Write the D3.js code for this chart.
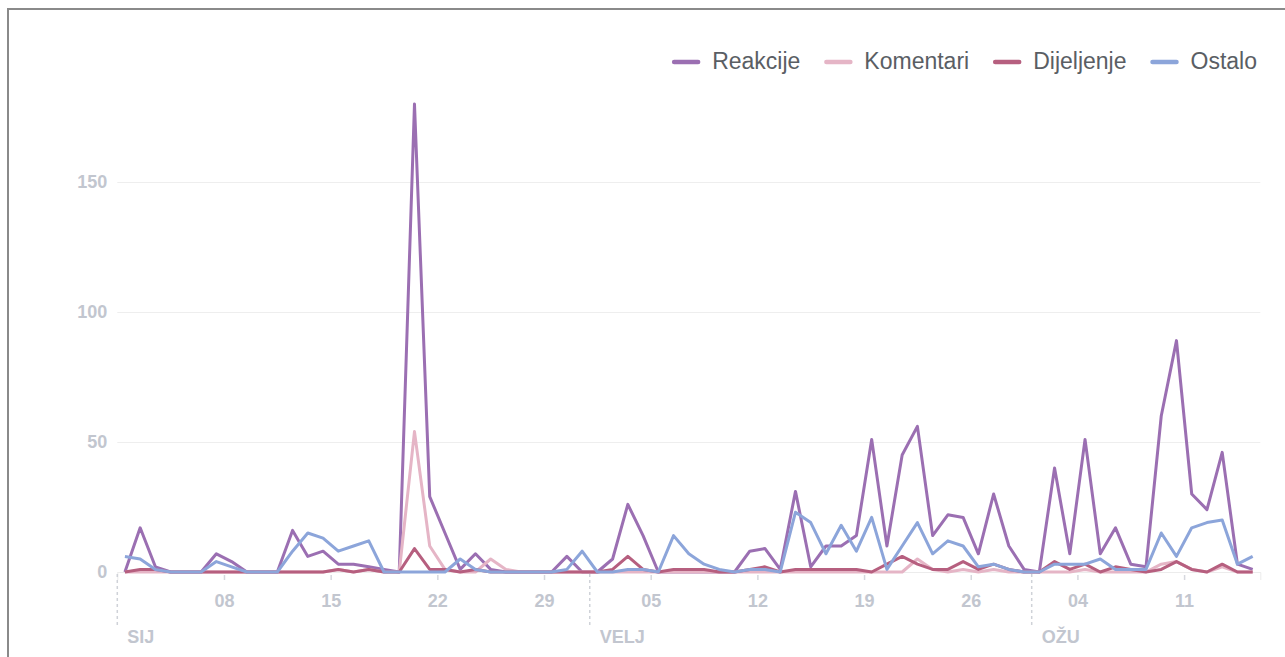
<!DOCTYPE html>
<html>
<head>
<meta charset="utf-8">
<script src="https://cdn.jsdelivr.net/npm/d3@7"></script>
<style>
  body { margin: 0; background: #fff; }
  svg { display: block; font-family: "Liberation Sans", Arial, sans-serif; }
</style>
</head>
<body>
<svg width="1285" height="657"></svg>
<script>
// daily values, 1 Jan - 15 Mar
var startDay = new Date(2024, 0, 1);
var endDay = new Date(2024, 2, 16);

var reakcije = [0, 17, 2, 0, 0, 0, 7, 4, 0, 0, 0, 16, 6, 8, 3, 3, 2, 1, 0, 180,
  29, 15, 1, 7, 1, 0, 0, 0, 0, 6, 0, 0, 5, 26, 14, 0, 0, 0, 0, 0,
  0, 8, 9, 1, 31, 2, 10, 10, 14, 51, 10, 45, 56, 14, 22, 21, 7, 30, 10, 1,
  0, 40, 7, 51, 7, 17, 3, 2, 60, 89, 30, 24, 46, 3, 1];
var komentari = [0, 0, 0, 0, 0, 0, 0, 0, 0, 0, 0, 0, 0, 0, 1, 0, 1, 0, 0, 54,
  10, 1, 0, 0, 5, 1, 0, 0, 0, 0, 0, 0, 0, 0, 0, 0, 0, 0, 0, 0,
  0, 0, 0, 0, 0, 0, 0, 0, 0, 0, 0, 0, 5, 1, 0, 1, 0, 1, 0, 0,
  0, 0, 0, 1, 0, 0, 0, 0, 3, 4, 1, 0, 2, 0, 0];
var dijeljenje = [0, 1, 1, 0, 0, 0, 0, 0, 0, 0, 0, 0, 0, 0, 1, 0, 1, 0, 0, 9,
  1, 1, 0, 1, 0, 0, 0, 0, 0, 0, 0, 0, 1, 6, 1, 0, 1, 1, 1, 0,
  0, 1, 2, 0, 1, 1, 1, 1, 1, 0, 3, 6, 3, 1, 1, 4, 1, 3, 1, 0,
  0, 4, 1, 3, 0, 2, 1, 0, 1, 4, 1, 0, 3, 0, 0];
var ostalo = [6, 5, 1, 0, 0, 0, 4, 2, 0, 0, 0, 8, 15, 13, 8, 10, 12, 0, 0, 0,
  0, 0, 5, 1, 0, 0, 0, 0, 0, 1, 8, 0, 0, 1, 1, 0, 14, 7, 3, 1,
  0, 1, 1, 0, 23, 19, 7, 18, 8, 21, 1, 10, 19, 7, 12, 10, 2, 3, 1, 0,
  0, 3, 3, 3, 5, 1, 1, 1, 15, 6, 17, 19, 20, 3, 6];

var seriesNames = ["Reakcije", "Komentari", "Dijeljenje", "Ostalo"];
var seriesValues = [reakcije, komentari, dijeljenje, ostalo];
var seriesColors = ["#9b6fb2", "#e5b5c6", "#b65f7f", "#8ca5da"];

var yTicks = [0, 50, 100, 150];
var xTickDates = [new Date(2024, 0, 8), new Date(2024, 0, 15), new Date(2024, 0, 22), new Date(2024, 0, 29),
  new Date(2024, 1, 5), new Date(2024, 1, 12), new Date(2024, 1, 19), new Date(2024, 1, 26),
  new Date(2024, 2, 4), new Date(2024, 2, 11)];
var monthStarts = [new Date(2024, 0, 1), new Date(2024, 1, 1), new Date(2024, 2, 1)];
var monthLabels = ["SIJ", "VELJ", "OŽU"];

var svg = d3.select("svg");
var days = d3.timeDay.range(startDay, endDay);
var labelGray = "#c2c6cf";

var x = d3.scaleTime().domain([startDay, endDay]).range([117.3, 1260.3]);
var y = d3.scaleLinear().domain([0, 150]).range([572, 182]);

// frame
svg.append("rect")
  .attr("x", 8).attr("y", 9)
  .attr("width", 1300).attr("height", 700)
  .attr("fill", "none").attr("stroke", "#8a8a8a").attr("stroke-width", 2);

// grid + y labels
var yAxis = d3.axisLeft(y).tickValues(yTicks).tickSize(-(x.range()[1] - x.range()[0])).tickPadding(10);
var gy = svg.append("g").attr("transform", "translate(" + x.range()[0] + ",0)").call(yAxis);
gy.select(".domain").remove();
gy.selectAll(".tick line").attr("stroke", "#eeeeee").attr("stroke-width", 1);
gy.selectAll(".tick text")
  .attr("fill", labelGray).attr("font-size", 18).attr("font-weight", "bold")
  .style("font-family", "'Liberation Sans', Arial, sans-serif");

// x axis
var xAxis = d3.axisBottom(x).tickValues(xTickDates).tickFormat(d3.timeFormat("%d")).tickSize(8).tickPadding(14);
var gx = svg.append("g").attr("transform", "translate(0," + y(0) + ")").call(xAxis);
gx.select(".domain").attr("stroke", "#ececec");
gx.selectAll(".tick line").attr("stroke", "#d6d8de").attr("stroke-width", 1.5).attr("y1", 3);
gx.selectAll(".tick text")
  .attr("fill", labelGray).attr("font-size", 18).attr("font-weight", "bold")
  .style("font-family", "'Liberation Sans', Arial, sans-serif");

// month separators
var months = svg.append("g").selectAll("g").data(monthStarts).enter().append("g")
  .attr("transform", function(d) { return "translate(" + x(d) + ",0)"; });
months.append("line")
  .attr("y1", y(0) + 2).attr("y2", 628)
  .attr("stroke", "#cfd2d8").attr("stroke-width", 1.5).attr("stroke-dasharray", "3,3");
months.append("text")
  .attr("x", 10).attr("y", 643)
  .attr("fill", labelGray).attr("font-size", 18).attr("font-weight", "bold")
  .text(function(d, i) { return monthLabels[i]; });

// lines
var line = d3.line()
  .x(function(d, i) { return x(d3.timeHour.offset(days[i], 12)); })
  .y(function(d) { return y(d); });

svg.append("g").selectAll("path").data(seriesValues).enter().append("path")
  .attr("d", line)
  .attr("fill", "none")
  .attr("stroke", function(d, i) { return seriesColors[i]; })
  .attr("stroke-width", 3)
  .attr("stroke-linejoin", "round");

// legend, right aligned
var legend = svg.append("g");
var items = legend.selectAll("g").data(seriesNames).enter().append("g");
items.append("line")
  .attr("x1", 0).attr("x2", 24).attr("y1", 62).attr("y2", 62)
  .attr("stroke", function(d, i) { return seriesColors[i]; })
  .attr("stroke-width", 4.5).attr("stroke-linecap", "round");
items.append("text")
  .attr("x", 38).attr("y", 69)
  .attr("fill", "#5a5e64").attr("font-size", 23)
  .text(function(d) { return d; });

var widths = [];
items.each(function() { widths.push(d3.select(this).select("text").node().getComputedTextLength() + 38); });
var gap = 26;
var total = d3.sum(widths) + gap * (widths.length - 1);
var cursor = 1257 - total;
items.attr("transform", function(d, i) {
  var t = "translate(" + cursor + ",0)";
  cursor += widths[i] + gap;
  return t;
});
</script>
</body>
</html>
